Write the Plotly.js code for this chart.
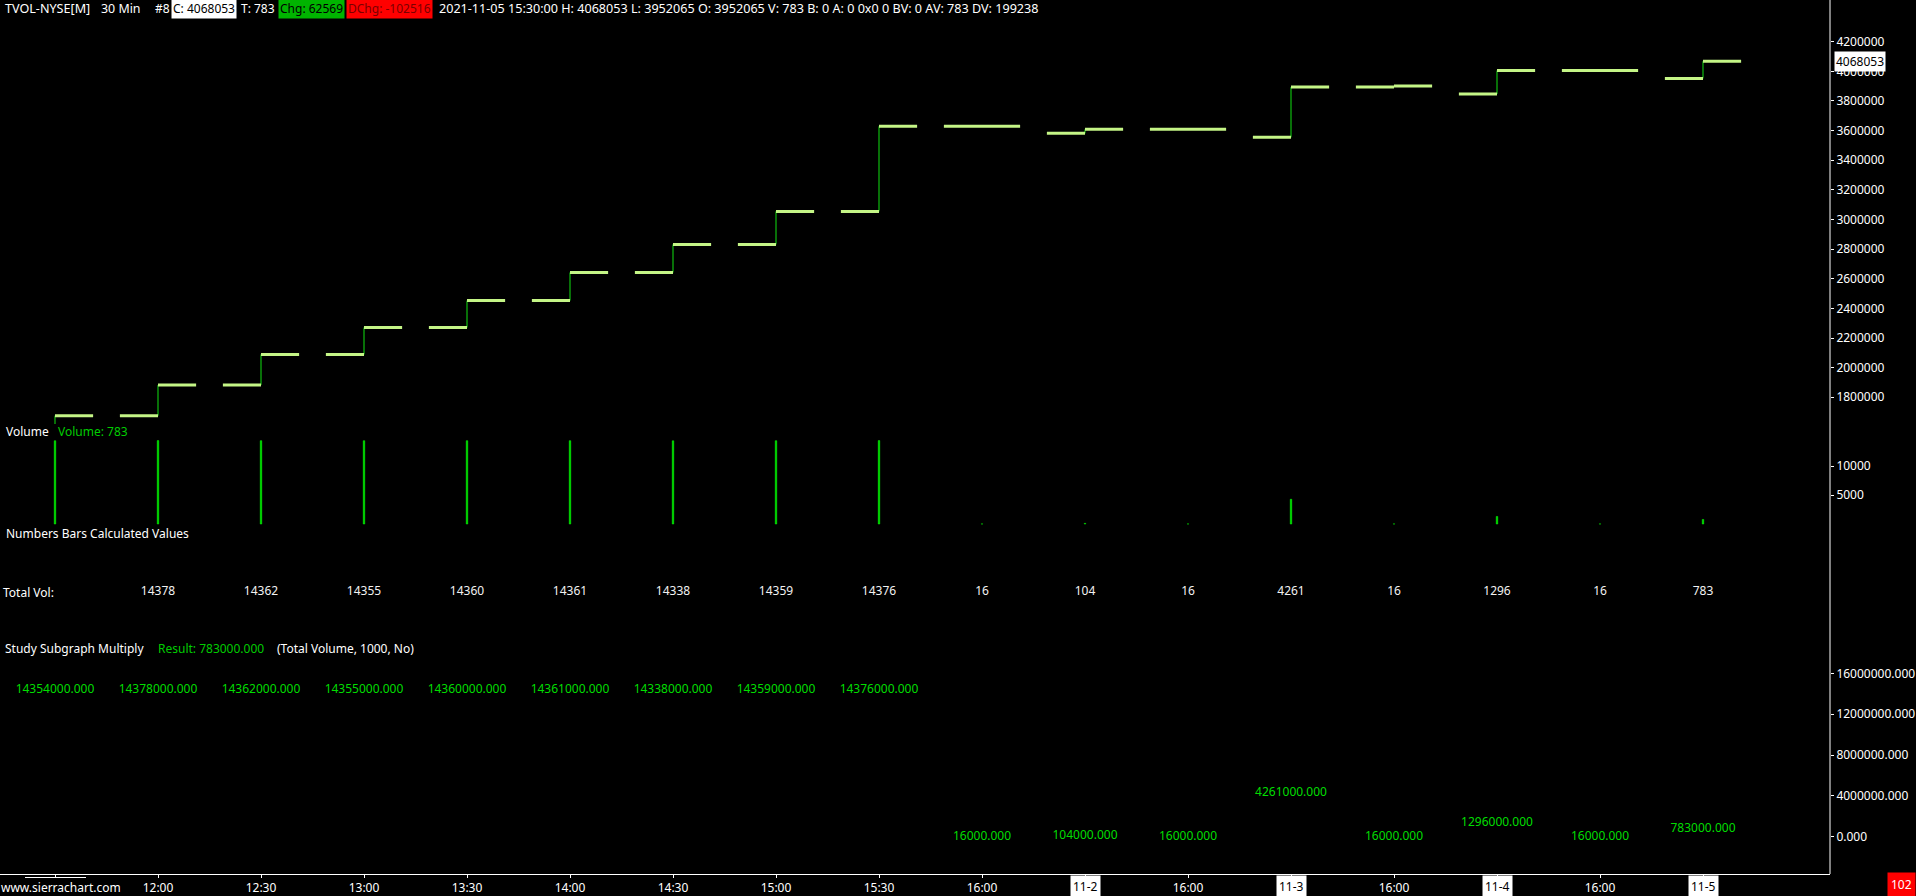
<!DOCTYPE html>
<html>
<head>
<meta charset="utf-8">
<script src="https://cdn.plot.ly/plotly-3.0.1.min.js"></script>
<style>
html,body{margin:0;padding:0;background:#000;}
#chart{width:1916px;height:896px;}
</style>
</head>
<body>
<div id="chart"></div>
<script>
// ---------------- DATA ----------------
const barLabels = ['11:30','12:00','12:30','13:00','13:30','14:00','14:30','15:00','15:30','16:00','11-2','16:00','11-3','16:00','11-4','16:00','11-5'];
const openP  = [1500000,1675500,1882700,2089300,2270850,2452400,2642100,2831800,3054500,3628950,3581700,3608700,3554700,3894200,3847000,4005484,3952065];
const closeP = [1675500,1882700,2089300,2270850,2452400,2642100,2831800,3054500,3628950,3628950,3608700,3608700,3894200,3901000,4005484,4005484,4068053];
const highP  = [1675500,1882700,2089300,2270850,2452400,2642100,2831800,3054500,3628950,3628950,3608700,3608700,3894200,3901000,4005484,4005484,4068053];
const lowP   = [1500000,1675500,1882700,2089300,2270850,2452400,2642100,2831800,3054500,3628950,3581700,3608700,3554700,3894200,3847000,4005484,3952065];
const volume = [14354,14378,14362,14355,14360,14361,14338,14359,14376,16,104,16,4261,16,1296,16,783];
const totalVol = [null,14378,14362,14355,14360,14361,14338,14359,14376,16,104,16,4261,16,1296,16,783];
const multiplyResult = [14354000,14378000,14362000,14355000,14360000,14361000,14338000,14359000,14376000,16000,104000,16000,4261000,16000,1296000,16000,783000];
const priceTicks = [1800000,2000000,2200000,2400000,2600000,2800000,3000000,3200000,3400000,3600000,3800000,4000000,4200000];
const volumeTicks = [5000,10000];
const multiplyTicks = [0,4000000,8000000,12000000,16000000];

// ---------------- LAYOUT HELPERS ----------------
const W = 1916, H = 896, PLOT_W = 1830, PLOT_H = 874;
const px = p => p / PLOT_W;
const py = p => 1 - p / PLOT_H;
const FONT = '"Noto Sans", "Open Sans", sans-serif';
const idx = barLabels.map((_, i) => i);
const TW = 0.37;

// tick segments for OHLC-like bars
const openX = [], openY = [], closeX = [], closeY = [], vX = [], vY = [];
idx.forEach(i => {
  openX.push(i - TW, i, null); openY.push(openP[i], openP[i], null);
  closeX.push(i, i + TW, null); closeY.push(closeP[i], closeP[i], null);
  vX.push(i, i, null); vY.push(lowP[i], highP[i], null);
});

const traces = [
  {type:'scatter', mode:'lines', x:vX, y:vY, xaxis:'x', yaxis:'y', line:{color:'#10e010', width:1}, hoverinfo:'skip', connectgaps:false},
  {type:'scatter', mode:'lines', x:openX, y:openY, xaxis:'x', yaxis:'y', line:{color:'#c4f586', width:3}, hoverinfo:'skip', connectgaps:false},
  {type:'scatter', mode:'lines', x:closeX, y:closeY, xaxis:'x', yaxis:'y', line:{color:'#c4f586', width:3}, hoverinfo:'skip', connectgaps:false},
  {type:'bar', x:idx, y:volume, xaxis:'x', yaxis:'y2', width:0.014, marker:{color:'#00ee00', line:{width:0.6, color:'#00ee00'}}, hoverinfo:'skip'},
  {type:'scatter', mode:'text', x:idx, y:idx.map(() => 0.5), text:totalVol.map(v => v == null ? '' : String(v)),
   xaxis:'x', yaxis:'y4', textfont:{family:FONT, size:12, color:'#f2f2f2'}, textposition:'middle center', hoverinfo:'skip'},
  {type:'scatter', mode:'text', x:idx, y:multiplyResult, text:multiplyResult.map(v => v.toFixed(3)),
   xaxis:'x', yaxis:'y3', textfont:{family:FONT, size:12, color:'#00dd00'}, textposition:'middle center', hoverinfo:'skip', cliponaxis:false}
];

const tickFont = {family:FONT, size:12, color:'#ffffff'};
const yCommon = {side:'right', anchor:'x', showgrid:false, zeroline:false, showline:false,
  ticks:'outside', ticklen:3, tickcolor:'#ffffff', tickfont:tickFont, fixedrange:true};

const isDate = s => /^\d+-\d+$/.test(s);

const annotations = [];
function txt(text, x, y, color, opts, size) {
  annotations.push(Object.assign({text:text, xref:'paper', yref:'paper', x:px(x), y:py(y), xanchor:'left', yanchor:'middle',
    showarrow:false, font:{family:FONT, size:size || 12, color:color}, borderpad:0}, opts || {}));
}
// header
txt('TVOL-NYSE[M]', 4, 8.5, '#ffffff', null, 12.6);
txt('30 Min', 100, 8.5, '#ffffff', null, 12.4);
txt('#8', 154, 8.5, '#ffffff');
txt('C: 4068053', 171, 8.5, '#000000', {bgcolor:'#ffffff', borderpad:1});
txt('T: 783', 240, 8.5, '#ffffff');
txt('Chg: 62569', 277.5, 8.5, '#000000', {bgcolor:'#00b400', borderpad:1});
txt('DChg: -102516', 346, 8.5, '#7a0000', {bgcolor:'#ff0000', borderpad:1});
txt('2021-11-05 15:30:00 H: 4068053 L: 3952065 O: 3952065 V: 783 B: 0 A: 0 0x0 0 BV: 0 AV: 783 DV: 199238', 438, 8.5, '#ffffff', null, 12.6);
// pane labels
txt('Volume', 5, 432, '#ffffff');
txt('Volume: ' + volume[volume.length - 1], 57, 432, '#00cc00');
txt('Numbers Bars Calculated Values', 5, 533, '#ffffff');
txt('Total Vol:', 2, 592, '#ffffff');
txt('Study Subgraph Multiply', 4, 648, '#ffffff');
txt('Result: ' + multiplyResult[multiplyResult.length - 1].toFixed(3), 157, 648, '#00cc00');
txt('(Total Volume, 1000, No)', 276, 648, '#ffffff');
txt('www.sierrachart.com', 0, 887, '#ffffff');
// last price box
annotations.push({text:String(closeP[closeP.length - 1]), xref:'paper', yref:'y', x:px(1834), y:closeP[closeP.length - 1],
  xanchor:'left', yanchor:'middle', showarrow:false, bgcolor:'#ffffff', borderpad:1, font:{family:FONT, size:12, color:'#000000'}});
// date labels on x axis
idx.forEach(i => {
  if (isDate(barLabels[i])) {
    annotations.push({text:barLabels[i], xref:'x', yref:'paper', x:i, y:py(886.5), xanchor:'center', yanchor:'middle',
      showarrow:false, bgcolor:'#ffffff', borderpad:2, font:{family:FONT, size:12, color:'#000000'}});
  }
});
// red counter box
annotations.push({text:'102', xref:'paper', yref:'paper', x:px(1916), y:py(885), xanchor:'right', yanchor:'middle',
  showarrow:false, bgcolor:'#ff0000', borderpad:3, font:{family:FONT, size:12, color:'#ffffff'}});

const layout = {
  width:W, height:H, paper_bgcolor:'#000000', plot_bgcolor:'#000000',
  margin:{l:0, r:W - PLOT_W, t:0, b:H - PLOT_H}, showlegend:false, hovermode:false, bargap:0,
  font:{family:FONT, size:12, color:'#ffffff'},
  xaxis:{domain:[0,1], anchor:'y3', range:[-55/103, (PLOT_W - 55)/103], tickvals:idx,
    ticktext:barLabels.map((s, i) => (i === 0 || isDate(s)) ? '' : s),
    ticks:'outside', ticklen:3, tickcolor:'#ffffff', showline:true, linecolor:'#ffffff', linewidth:1,
    showgrid:false, zeroline:false, tickfont:tickFont, fixedrange:true},
  yaxis:Object.assign({}, yCommon, {domain:[py(424), 1], range:[1619475, 4481475], tickvals:priceTicks, tickformat:'d'}),
  yaxis2:Object.assign({}, yCommon, {domain:[py(526), py(426)], range:[-345, 16897], tickvals:volumeTicks, tickformat:'d'}),
  yaxis3:Object.assign({}, yCommon, {domain:[0, py(645)], range:[-3652000, 18771000], tickvals:multiplyTicks, tickformat:'.3f'}),
  yaxis4:{domain:[py(640), py(544)], range:[0,1], visible:false, anchor:'x', fixedrange:true},
  shapes:[
    {type:'line', xref:'paper', yref:'paper', x0:1, x1:1, y0:0, y1:1, line:{color:'#ffffff', width:1}},
    {type:'line', xref:'paper', yref:'paper', x0:px(25), x1:px(86), y0:py(877.5), y1:py(877.5), line:{color:'#ffffff', width:1}}
  ],
  annotations:annotations
};

Plotly.newPlot('chart', traces, layout, {staticPlot:true, displayModeBar:false});
</script>
</body>
</html>
